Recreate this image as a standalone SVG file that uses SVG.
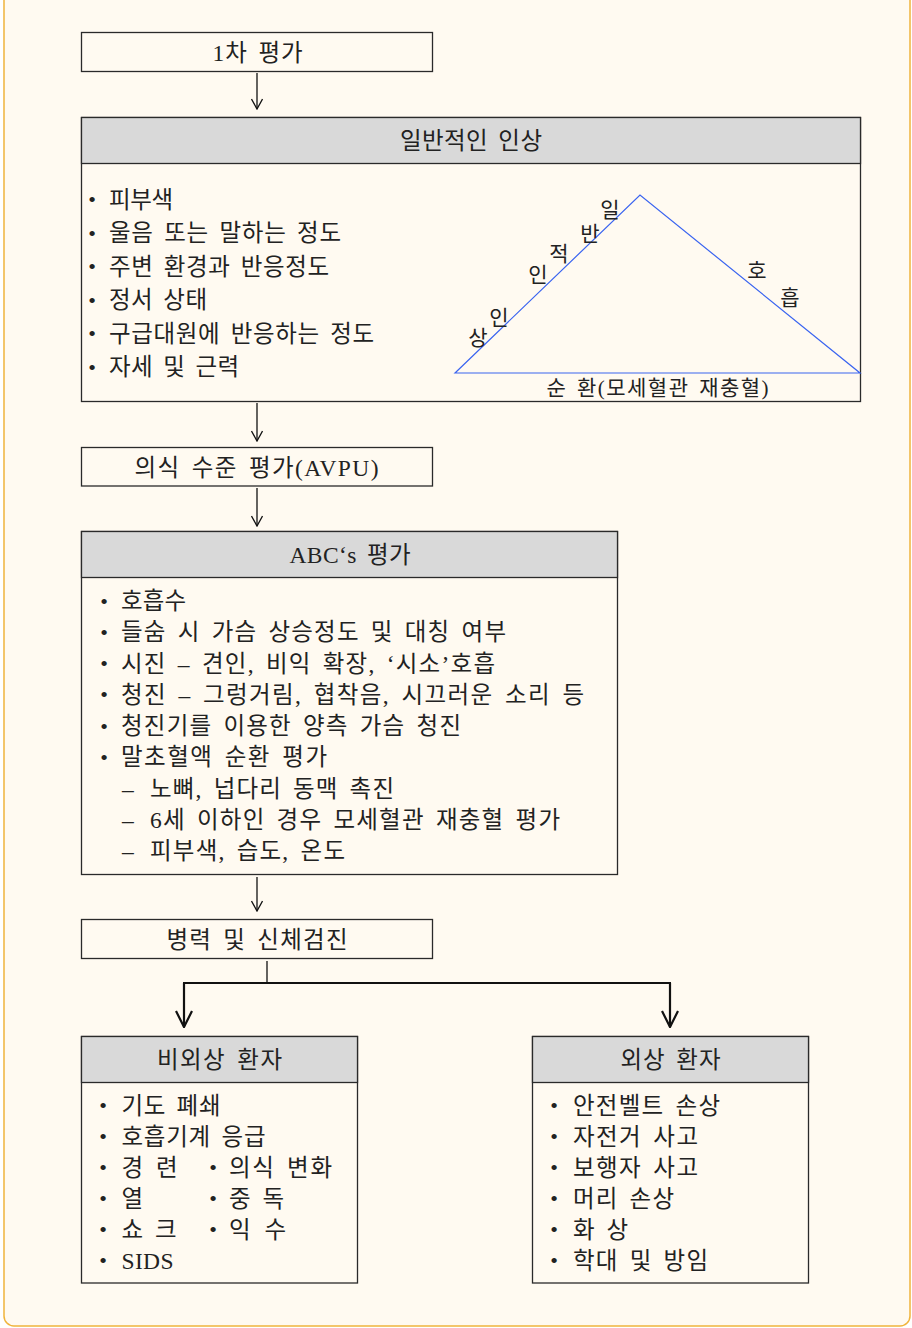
<svg xmlns="http://www.w3.org/2000/svg" width="912" height="1328" viewBox="0 0 912 1328">
<style>
text{font-family:"Liberation Serif","Noto Sans CJK KR",serif;fill:#222;}
.t{font-size:23.5px;word-spacing:4px;}
.c{text-anchor:middle;}
.b{font-size:22px;text-anchor:middle;}
.tri{font-size:21px;text-anchor:middle;font-family:"Noto Sans CJK KR",sans-serif;}
.box{fill:#fffaf1;stroke:#2a2a2a;stroke-width:1.3;}
.hdr{fill:#d9d9d9;stroke:#2a2a2a;stroke-width:1.3;}
.ln{stroke:#111;stroke-width:1.3;fill:none;}
.lk{stroke:#111;stroke-width:2.2;fill:none;}
</style>
<defs>
<marker id="arr" viewBox="0 0 12 12" refX="11" refY="6" markerWidth="12" markerHeight="12" markerUnits="userSpaceOnUse" orient="auto">
<path d="M1,0.5 L11,6 L1,11.5" fill="none" stroke="#111" stroke-width="1.3"/>
</marker>
<marker id="arrk" viewBox="0 0 18 18" refX="17" refY="9" markerWidth="18" markerHeight="18" markerUnits="userSpaceOnUse" orient="auto">
<path d="M1,1 L17,9 L1,17" fill="none" stroke="#111" stroke-width="2.2"/>
</marker>
</defs>
<rect x="4" y="-20" width="906" height="1346" rx="10" fill="#fffaf1" stroke="#f0b43c" stroke-width="1.5"/>

<g id="n1">
<rect class="box" x="81.5" y="32.5" width="351" height="39"/>
<text class="t c" x="257.5" y="60.5" textLength="90" lengthAdjust="spacing">1차 평가</text>
</g>

<g id="n2">
<rect class="box" x="81.5" y="117.5" width="779" height="284"/>
<rect class="hdr" x="81.5" y="117.5" width="779" height="46"/>
<text class="t c" x="471" y="148.5" textLength="142" lengthAdjust="spacing">일반적인 인상</text>
<text class="b" x="92" y="207">•</text><text class="t" x="109" y="207.5" textLength="64" lengthAdjust="spacing">피부색</text>
<text class="b" x="92" y="240.5">•</text><text class="t" x="109" y="241" textLength="232" lengthAdjust="spacing">울음 또는 말하는 정도</text>
<text class="b" x="92" y="274">•</text><text class="t" x="109" y="274.5" textLength="220" lengthAdjust="spacing">주변 환경과 반응정도</text>
<text class="b" x="92" y="307.5">•</text><text class="t" x="109" y="308" textLength="98" lengthAdjust="spacing">정서 상태</text>
<text class="b" x="92" y="341">•</text><text class="t" x="109" y="341.5" textLength="265" lengthAdjust="spacing">구급대원에 반응하는 정도</text>
<text class="b" x="92" y="374.5">•</text><text class="t" x="109" y="375" textLength="130" lengthAdjust="spacing">자세 및 근력</text>
<path d="M455,373 L640,195 L860,373 Z" fill="none" stroke="#3a64f0" stroke-width="1.2"/>
<text class="tri" x="478" y="345">상</text>
<text class="tri" x="499" y="325">인</text>
<text class="tri" x="538" y="282">인</text>
<text class="tri" x="559" y="261">적</text>
<text class="tri" x="590" y="241">반</text>
<text class="tri" x="610" y="217">일</text>
<text class="tri" x="757" y="278">호</text>
<text class="tri" x="790" y="305">흡</text>
<text class="c" x="657.5" y="395" style="font-size:21px;word-spacing:3px" textLength="222" lengthAdjust="spacing">순 환(모세혈관 재충혈)</text>
</g>

<g id="n3">
<rect class="box" x="81.5" y="447.5" width="351" height="38.5"/>
<text class="t c" x="256.5" y="475.5" textLength="244" lengthAdjust="spacing">의식 수준 평가(AVPU)</text>
</g>

<g id="n4">
<rect class="box" x="81.5" y="531.5" width="536" height="343"/>
<rect class="hdr" x="81.5" y="531.5" width="536" height="46"/>
<text class="t c" x="350" y="562.5" textLength="121" lengthAdjust="spacing">ABC‘s 평가</text>
<text class="b" x="104" y="608.5">•</text><text class="t" x="121" y="609" textLength="65" lengthAdjust="spacing">호흡수</text>
<text class="b" x="104" y="639.5">•</text><text class="t" x="121" y="640" textLength="385" lengthAdjust="spacing">들숨 시 가슴 상승정도 및 대칭 여부</text>
<text class="b" x="104" y="671">•</text><text class="t" x="121" y="671.5" textLength="374" lengthAdjust="spacing">시진 – 견인, 비익 확장, ‘시소’호흡</text>
<text class="b" x="104" y="702">•</text><text class="t" x="121" y="702.5" textLength="463" lengthAdjust="spacing">청진 – 그렁거림, 협착음, 시끄러운 소리 등</text>
<text class="b" x="104" y="733.5">•</text><text class="t" x="121" y="734" textLength="340" lengthAdjust="spacing">청진기를 이용한 양측 가슴 청진</text>
<text class="b" x="104" y="764.5">•</text><text class="t" x="121" y="765" textLength="206" lengthAdjust="spacing">말초혈액 순환 평가</text>
<text class="t" x="122" y="796.5">–</text><text class="t" x="150" y="796.5" textLength="244" lengthAdjust="spacing">노뼈, 넙다리 동맥 촉진</text>
<text class="t" x="122" y="828">–</text><text class="t" x="150" y="828" textLength="410" lengthAdjust="spacing">6세 이하인 경우 모세혈관 재충혈 평가</text>
<text class="t" x="122" y="859">–</text><text class="t" x="150" y="859" textLength="195" lengthAdjust="spacing">피부색, 습도, 온도</text>
</g>

<g id="n5">
<rect class="box" x="81.5" y="919.5" width="351" height="39"/>
<text class="t c" x="257" y="947.5" textLength="181" lengthAdjust="spacing">병력 및 신체검진</text>
</g>

<g id="n6">
<rect class="box" x="81.5" y="1036.5" width="276" height="246.5"/>
<rect class="hdr" x="81.5" y="1036.5" width="276" height="46"/>
<text class="t c" x="219.5" y="1067.5" textLength="125" lengthAdjust="spacing">비외상 환자</text>
<text class="b" x="103" y="1113">•</text><text class="t" x="121.5" y="1113.5" textLength="99" lengthAdjust="spacing">기도 폐쇄</text>
<text class="b" x="103" y="1144">•</text><text class="t" x="121.5" y="1144.5" textLength="144" lengthAdjust="spacing">호흡기계 응급</text>
<text class="b" x="103" y="1175">•</text><text class="t" x="121.5" y="1175.5" textLength="56" lengthAdjust="spacing">경 련</text>
<text class="b" x="213" y="1175">•</text><text class="t" x="229" y="1175.5" textLength="103" lengthAdjust="spacing">의식 변화</text>
<text class="b" x="103" y="1206">•</text><text class="t" x="121.5" y="1206.5">열</text>
<text class="b" x="213" y="1206">•</text><text class="t" x="229" y="1206.5" textLength="55" lengthAdjust="spacing">중 독</text>
<text class="b" x="103" y="1237">•</text><text class="t" x="121.5" y="1237.5" textLength="55" lengthAdjust="spacing">쇼 크</text>
<text class="b" x="213" y="1237">•</text><text class="t" x="229" y="1237.5" textLength="57" lengthAdjust="spacing">익 수</text>
<text class="b" x="103" y="1268">•</text><text class="t" x="121.5" y="1268.5" textLength="52" lengthAdjust="spacing">SIDS</text>
</g>

<g id="n7">
<rect class="box" x="532.5" y="1036.5" width="276" height="246.5"/>
<rect class="hdr" x="532.5" y="1036.5" width="276" height="46"/>
<text class="t c" x="670.5" y="1067.5" textLength="100" lengthAdjust="spacing">외상 환자</text>
<text class="b" x="554" y="1113">•</text><text class="t" x="573" y="1113.5" textLength="147" lengthAdjust="spacing">안전벨트 손상</text>
<text class="b" x="554" y="1144">•</text><text class="t" x="573" y="1144.5" textLength="125" lengthAdjust="spacing">자전거 사고</text>
<text class="b" x="554" y="1175">•</text><text class="t" x="573" y="1175.5" textLength="125" lengthAdjust="spacing">보행자 사고</text>
<text class="b" x="554" y="1206">•</text><text class="t" x="573" y="1206.5" textLength="101" lengthAdjust="spacing">머리 손상</text>
<text class="b" x="554" y="1237">•</text><text class="t" x="573" y="1237.5" textLength="55" lengthAdjust="spacing">화 상</text>
<text class="b" x="554" y="1268">•</text><text class="t" x="573" y="1268.5" textLength="135" lengthAdjust="spacing">학대 및 방임</text>
</g>

<g id="connectors">
<line class="ln" x1="257" y1="73" x2="257" y2="109" marker-end="url(#arr)"/>
<line class="ln" x1="257" y1="403" x2="257" y2="441" marker-end="url(#arr)"/>
<line class="ln" x1="257" y1="488" x2="257" y2="526" marker-end="url(#arr)"/>
<line class="ln" x1="257" y1="877" x2="257" y2="911" marker-end="url(#arr)"/>
<line class="ln" x1="267" y1="961" x2="267" y2="983"/>
<line class="lk" x1="183" y1="983" x2="671" y2="983"/>
<line class="lk" x1="184" y1="983" x2="184" y2="1027" marker-end="url(#arrk)"/>
<line class="lk" x1="670" y1="983" x2="670" y2="1027" marker-end="url(#arrk)"/>
</g>
</svg>
